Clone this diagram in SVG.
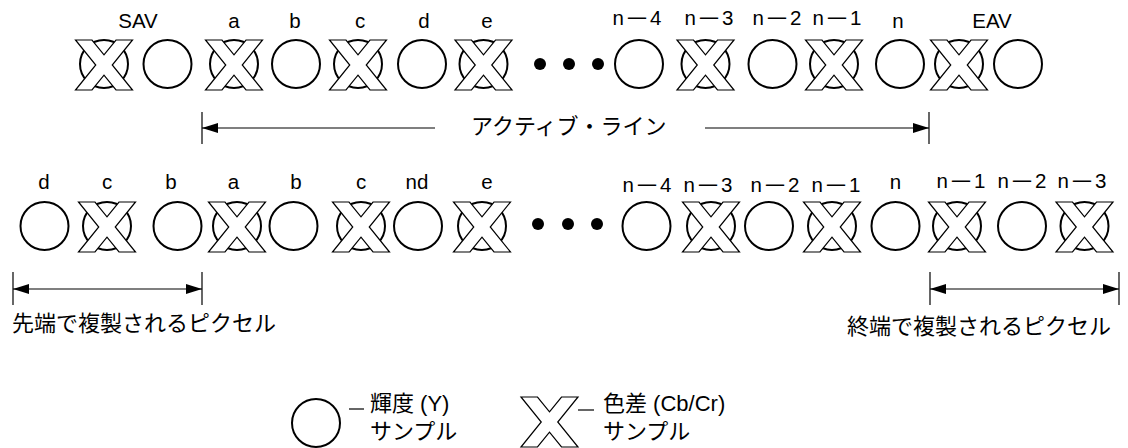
<svg xmlns="http://www.w3.org/2000/svg" width="1128" height="448" viewBox="0 0 1128 448">
  <style>
    .lum { fill: none; stroke: #000; stroke-width: 2; }
    .chr { fill: #fff; stroke: #000; stroke-width: 1.2; stroke-linejoin: miter; }
    .lbl { font-family: "Liberation Sans", Arial, sans-serif; font-size: 20.5px; fill: #000; text-anchor: middle; }
    .jp { font-family: "Liberation Sans", "Noto Sans CJK JP", sans-serif; font-size: 22px; fill: #000; }
    .ln { stroke: #000; stroke-width: 1.2; fill: none; }
    .dot { fill: #000; }
  </style>
  <defs>
    <!-- hollow X used for chroma (Cb/Cr) samples -->
    <path id="xs" d="M-28.5,-25 H-12 L0,-10.2 L12,-25 H28.5 L8.25,0 L28.5,25 H12 L0,10.2 L-12,25 H-28.5 L-8.25,0 Z"/>
    <marker id="ah" viewBox="0 0 16 10" refX="16" refY="5" markerWidth="16" markerHeight="10" markerUnits="userSpaceOnUse" orient="auto-start-reverse">
      <path d="M0,0 L16,5 L0,10 Z" fill="#000"/>
    </marker>
  </defs>

  <!-- top row: SAV ... EAV -->
  <g id="top-row">
    <g id="t-sav"><circle class="lum" cx="104" cy="64" r="24"/><use href="#xs" class="chr" x="104" y="65"/><text class="lbl" x="138" y="27.5">SAV</text></g>
    <g id="t-sav-y"><circle class="lum" cx="167.5" cy="64" r="24"/></g>
    <g id="t-a"><circle class="lum" cx="234" cy="64" r="24"/><use href="#xs" class="chr" x="234" y="65"/><text class="lbl" x="234" y="27.5">a</text></g>
    <g id="t-b"><circle class="lum" cx="296" cy="64" r="24"/><text class="lbl" x="295" y="27.5">b</text></g>
    <g id="t-c"><circle class="lum" cx="358" cy="64" r="24"/><use href="#xs" class="chr" x="358" y="65"/><text class="lbl" x="360" y="27.5">c</text></g>
    <g id="t-d"><circle class="lum" cx="422" cy="64" r="24"/><text class="lbl" x="424" y="27.5">d</text></g>
    <g id="t-e"><circle class="lum" cx="483.5" cy="64" r="24"/><use href="#xs" class="chr" x="483.5" y="65"/><text class="lbl" x="487" y="27.5">e</text></g>
    <g id="t-dots"><circle class="dot" cx="540" cy="64" r="6"/><circle class="dot" cx="569" cy="64" r="6"/><circle class="dot" cx="598" cy="64" r="6"/></g>
    <g id="t-n4"><circle class="lum" cx="639" cy="64" r="24"/><text class="lbl" x="637" y="25">n<tspan dx="2" textLength="22" lengthAdjust="spacingAndGlyphs">−</tspan><tspan dx="2">4</tspan></text></g>
    <g id="t-n3"><circle class="lum" cx="705.5" cy="64" r="24"/><use href="#xs" class="chr" x="705.5" y="65"/><text class="lbl" x="709" y="25">n<tspan dx="2" textLength="22" lengthAdjust="spacingAndGlyphs">−</tspan><tspan dx="2">3</tspan></text></g>
    <g id="t-n2"><circle class="lum" cx="772.5" cy="64" r="24"/><text class="lbl" x="777" y="25">n<tspan dx="2" textLength="22" lengthAdjust="spacingAndGlyphs">−</tspan><tspan dx="2">2</tspan></text></g>
    <g id="t-n1"><circle class="lum" cx="834" cy="64" r="24"/><use href="#xs" class="chr" x="834" y="65"/><text class="lbl" x="837" y="25">n<tspan dx="2" textLength="22" lengthAdjust="spacingAndGlyphs">−</tspan><tspan dx="2">1</tspan></text></g>
    <g id="t-n"><circle class="lum" cx="900" cy="64" r="24"/><text class="lbl" x="898" y="28">n</text></g>
    <g id="t-eav"><circle class="lum" cx="959" cy="64" r="24"/><use href="#xs" class="chr" x="959" y="65"/><text class="lbl" x="992" y="27.5">EAV</text></g>
    <g id="t-eav-y"><circle class="lum" cx="1018" cy="64" r="24"/></g>
  </g>

  <!-- bottom row: replicated edge pixels -->
  <g id="bottom-row">
    <g id="b-d0"><circle class="lum" cx="44.5" cy="226" r="24"/><text class="lbl" x="44" y="189">d</text></g>
    <g id="b-c0"><circle class="lum" cx="107" cy="226" r="24"/><use href="#xs" class="chr" x="107" y="227"/><text class="lbl" x="107" y="189">c</text></g>
    <g id="b-b0"><circle class="lum" cx="177.5" cy="226" r="24"/><text class="lbl" x="171" y="189">b</text></g>
    <g id="b-a"><circle class="lum" cx="237" cy="226" r="24"/><use href="#xs" class="chr" x="237" y="227"/><text class="lbl" x="233.5" y="189">a</text></g>
    <g id="b-b"><circle class="lum" cx="293.5" cy="226" r="24"/><text class="lbl" x="296" y="189">b</text></g>
    <g id="b-c"><circle class="lum" cx="361" cy="226" r="24"/><use href="#xs" class="chr" x="361" y="227"/><text class="lbl" x="361" y="189">c</text></g>
    <g id="b-nd"><circle class="lum" cx="418" cy="226" r="24"/><text class="lbl" x="417" y="189">nd</text></g>
    <g id="b-e"><circle class="lum" cx="482" cy="226" r="24"/><use href="#xs" class="chr" x="482" y="227"/><text class="lbl" x="487" y="189">e</text></g>
    <g id="b-dots"><circle class="dot" cx="538" cy="224" r="6"/><circle class="dot" cx="568" cy="224" r="6"/><circle class="dot" cx="597" cy="224" r="6"/></g>
    <g id="b-n4"><circle class="lum" cx="646.5" cy="226" r="24"/><text class="lbl" x="647" y="192">n<tspan dx="2" textLength="22" lengthAdjust="spacingAndGlyphs">−</tspan><tspan dx="2">4</tspan></text></g>
    <g id="b-n3"><circle class="lum" cx="711" cy="226" r="24"/><use href="#xs" class="chr" x="711" y="227"/><text class="lbl" x="708" y="192">n<tspan dx="2" textLength="22" lengthAdjust="spacingAndGlyphs">−</tspan><tspan dx="2">3</tspan></text></g>
    <g id="b-n2"><circle class="lum" cx="769" cy="226" r="24"/><text class="lbl" x="775" y="192">n<tspan dx="2" textLength="22" lengthAdjust="spacingAndGlyphs">−</tspan><tspan dx="2">2</tspan></text></g>
    <g id="b-n1"><circle class="lum" cx="832" cy="226" r="24"/><use href="#xs" class="chr" x="832" y="227"/><text class="lbl" x="836" y="192">n<tspan dx="2" textLength="22" lengthAdjust="spacingAndGlyphs">−</tspan><tspan dx="2">1</tspan></text></g>
    <g id="b-n"><circle class="lum" cx="895.5" cy="226" r="24"/><text class="lbl" x="895.5" y="189">n</text></g>
    <g id="b-n1r"><circle class="lum" cx="957" cy="226" r="24"/><use href="#xs" class="chr" x="957" y="227"/><text class="lbl" x="961" y="188">n<tspan dx="2" textLength="22" lengthAdjust="spacingAndGlyphs">−</tspan><tspan dx="2">1</tspan></text></g>
    <g id="b-n2r"><circle class="lum" cx="1022" cy="226" r="24"/><text class="lbl" x="1022" y="188">n<tspan dx="2" textLength="22" lengthAdjust="spacingAndGlyphs">−</tspan><tspan dx="2">2</tspan></text></g>
    <g id="b-n3r"><circle class="lum" cx="1084.5" cy="226" r="24"/><use href="#xs" class="chr" x="1084.5" y="227"/><text class="lbl" x="1082" y="188">n<tspan dx="2" textLength="22" lengthAdjust="spacingAndGlyphs">−</tspan><tspan dx="2">3</tspan></text></g>
  </g>

  <!-- dimension arrows -->
  <g id="connectors">
    <line class="ln" x1="202" y1="112" x2="202" y2="144"/>
    <line class="ln" x1="929" y1="112" x2="929" y2="144"/>
    <line class="ln" x1="202" y1="128" x2="435" y2="128" marker-start="url(#ah)"/>
    <line class="ln" x1="705" y1="128" x2="929" y2="128" marker-end="url(#ah)"/>

    <line class="ln" x1="13" y1="272" x2="13" y2="305"/>
    <line class="ln" x1="202" y1="272" x2="202" y2="305"/>
    <line class="ln" x1="13" y1="289" x2="202" y2="289" marker-start="url(#ah)" marker-end="url(#ah)"/>

    <line class="ln" x1="930" y1="272" x2="930" y2="305"/>
    <line class="ln" x1="1119" y1="272" x2="1119" y2="305"/>
    <line class="ln" x1="930" y1="289" x2="1119" y2="289" marker-start="url(#ah)" marker-end="url(#ah)"/>
  </g>

  <g id="captions">
    <text class="jp" x="471" y="134">アクティブ・ライン</text>
    <text class="jp" x="12" y="331">先端で複製されるピクセル</text>
    <text class="jp" x="847" y="334">終端で複製されるピクセル</text>
  </g>

  <!-- legend -->
  <g id="legend-luma">
    <circle class="lum" cx="316" cy="423" r="24"/>
    <line class="ln" x1="349" y1="409" x2="364" y2="409"/>
    <text class="jp" x="370" y="411">輝度 (Y)</text>
    <text class="jp" x="370" y="439">サンプル</text>
  </g>
  <g id="legend-chroma">
    <use href="#xs" class="chr" x="549.5" y="422"/>
    <line class="ln" x1="578" y1="410" x2="594" y2="410"/>
    <text class="jp" x="603" y="411">色差 (Cb/Cr)</text>
    <text class="jp" x="603" y="439">サンプル</text>
  </g>
</svg>
